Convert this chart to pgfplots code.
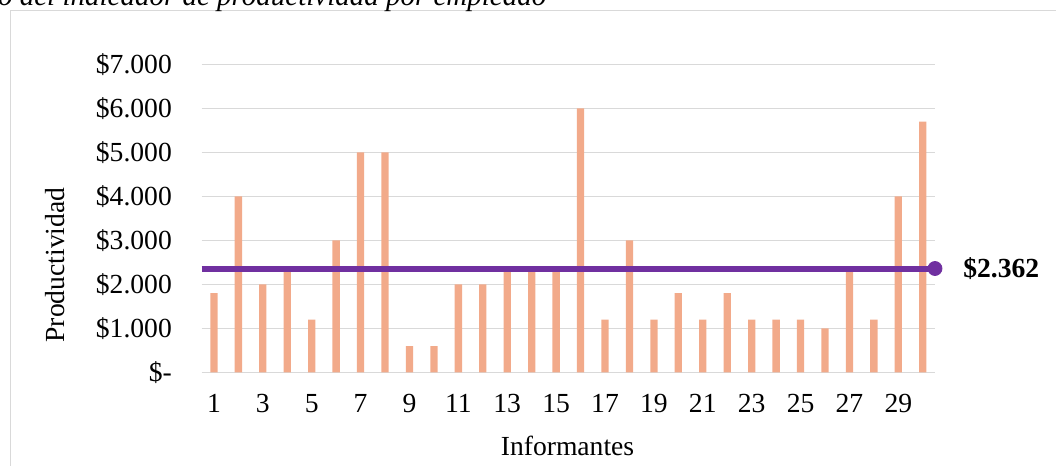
\documentclass[border=0pt]{standalone}
\usepackage{fontspec}
\setmainfont{Liberation Serif}
\usepackage{pgfplots}
\usepackage{pgfplotstable}
\pgfplotsset{compat=1.18}

\definecolor{barorange}{HTML}{F2AA8A}
\definecolor{avgpurple}{HTML}{7030A0}
\definecolor{gridgray}{HTML}{D9D9D9}

% Productividad por informante
\pgfplotstableread{
informante valor
1  1800
2  4000
3  2000
4  2400
5  1200
6  3000
7  5000
8  5000
9  600
10 600
11 2000
12 2000
13 2400
14 2400
15 2400
16 6000
17 1200
18 3000
19 1200
20 1800
21 1200
22 1800
23 1200
24 1200
25 1200
26 1000
27 2400
28 1200
29 4000
30 5700
}\productividad

\begin{document}
\begin{tikzpicture}[font=\fontsize{13.8}{16.5}\selectfont]
\useasboundingbox (0,0) rectangle (528pt,233pt);
\clip (0,0) rectangle (528pt,233pt);
% chart frame
\draw[gridgray, line width=0.75pt] (5.25pt,-5pt) -- (5.25pt,227.75pt) -- (540pt,227.75pt);
% caption
\node[anchor=base east, inner sep=0pt, font=\fontsize{14.5}{17}\selectfont\itshape]
  at (273.35pt,230pt) {Cálculo del indicador de productividad por empleado};
% axis titles
\node[anchor=base, inner sep=0pt] at (283.75pt,5pt) {Informantes};
\node[rotate=90, inner sep=0pt] at (27.5pt,100.5pt) {Productividad};
\begin{axis}[
  at={(100.85pt,46.75pt)}, anchor=south west,
  scale only axis, width=366.65pt, height=154.1pt,
  xmin=0.5, xmax=30.5, ymin=0, ymax=7000,
  xtick={1,3,...,29},
  ytick={0,1000,2000,3000,4000,5000,6000,7000},
  yticklabels={\$-,\$1.000,\$2.000,\$3.000,\$4.000,\$5.000,\$6.000,\$7.000},
  axis line style={draw=none},
  major tick length=0pt,
  ymajorgrids,
  grid style={gridgray, line width=0.75pt},
  clip=false,
  xticklabel style={yshift=-7.4pt},
  yticklabel style={xshift=-11.4pt},
  /pgf/number format/assume math mode=true,
]
\addplot[ybar, bar width=3.65pt, fill=barorange, draw=none]
  table[x=informante, y=valor] {\productividad};
\addplot[avgpurple, line width=3pt] coordinates {(0.5,2362) (30.5,2362)};
\addplot[only marks, mark=*, mark size=3.5pt, avgpurple] coordinates {(30.5,2362)};
\node[anchor=west, inner sep=0pt, xshift=14pt, font=\fontsize{13.8}{16.5}\selectfont\bfseries]
  at (axis cs:30.5,2362) {\$2.362};
\end{axis}
\end{tikzpicture}
\end{document}
